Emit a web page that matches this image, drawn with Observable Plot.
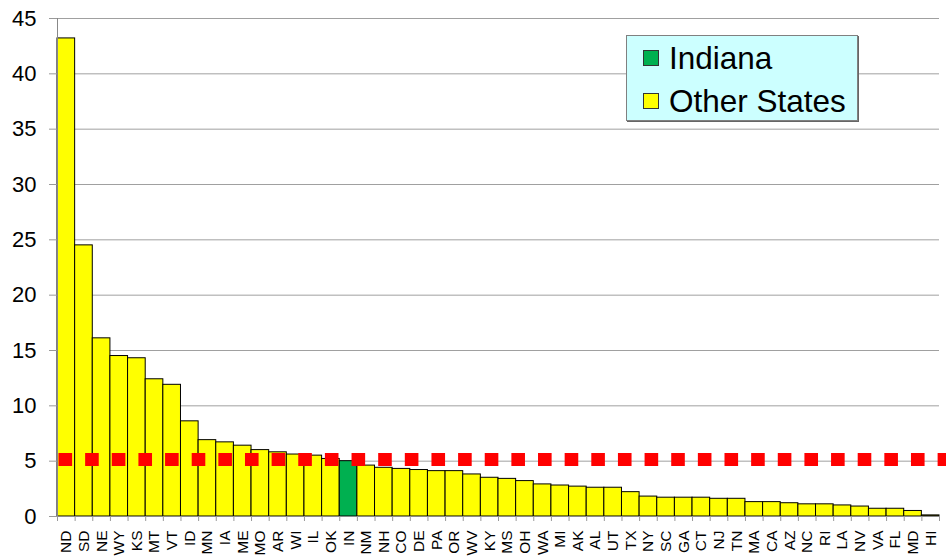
<!DOCTYPE html>
<html>
<head>
<meta charset="utf-8">
<script src="https://cdn.jsdelivr.net/npm/d3@7"></script>
<script src="https://cdn.jsdelivr.net/npm/@observablehq/plot@0.6"></script>
<style>
  html, body { margin: 0; padding: 0; background: #fff; }
  #wrap { position: relative; width: 946px; height: 557px; overflow: hidden; font-family: "Liberation Sans", Arial, sans-serif; }
  #legend { position: absolute; left: 626px; top: 35px; width: 232px; height: 86px; box-sizing: border-box;
    background: #CCFFFF; border: 1px solid #808080; box-shadow: 1px 1px 0 #666; }
  .row { position: absolute; left: 16px; height: 30px; display: flex; align-items: center; font-size: 31.5px; color: #000; white-space: nowrap; }
  .sw { width: 14px; height: 14px; border: 1px solid #333; margin-right: 10px; }
</style>
</head>
<body>
<div id="wrap">
  <div id="chart"></div>
  <div id="legend">
    <div class="row" style="top:7px"><div class="sw" style="background:#00B050"></div><span>Indiana</span></div>
    <div class="row" style="top:50px"><div class="sw" style="background:#FFFF00"></div><span>Other States</span></div>
  </div>
</div>
<script>
const states = ["ND","SD","NE","WY","KS","MT","VT","ID","MN","IA","ME","MO","AR","WI","IL","OK","IN","NM","NH","CO","DE","PA","OR","WV","KY","MS","OH","WA","MI","AK","AL","UT","TX","NY","SC","GA","CT","NJ","TN","MA","CA","AZ","NC","RI","LA","NV","VA","FL","MD","HI"];
const values = [43.2,24.5,16.1,14.5,14.3,12.4,11.9,8.6,6.9,6.7,6.4,6.0,5.8,5.6,5.5,5.2,5.0,4.6,4.4,4.3,4.2,4.1,4.1,3.8,3.5,3.4,3.2,2.9,2.8,2.7,2.6,2.6,2.2,1.8,1.7,1.7,1.7,1.6,1.6,1.3,1.3,1.2,1.1,1.1,1.0,0.9,0.7,0.7,0.5,0.1];
const highlight = "IN";
const average = 5.15;
const yTicks = [0,5,10,15,20,25,30,35,40,45];

const rows = states.map((s, i) => ({state: s, i, value: values[i]}));
const boundaries = d3.range(states.length + 1);
const centers = rows.map(d => d.i + 0.5);

const chart = Plot.plot({
  width: 946,
  height: 557,
  marginLeft: 57,
  marginRight: 7,
  marginTop: 18,
  marginBottom: 41,
  style: {fontFamily: "Liberation Sans, Arial, sans-serif", background: "transparent", overflow: "visible"},
  x: {type: "linear", domain: [0, states.length]},
  y: {domain: [0, 45]},
  marks: [
    Plot.gridY(yTicks.slice(1), {stroke: "#A0A0A0", strokeOpacity: 1}),
    Plot.rectY(rows, {x1: "i", x2: d => d.i + 1, y: "value",
      fill: d => d.state === highlight ? "#00B050" : "#FFFF00", stroke: "#000", strokeWidth: 1}),
    Plot.ruleX([0], {stroke: "#888"}),
    Plot.ruleY([0], {stroke: "#888"}),
    Plot.axisY(yTicks, {tickSize: 8, tickPadding: 13, fontSize: 22, stroke: "#999", fill: "#000", label: null}),
    Plot.axisX(boundaries, {tickSize: 5, tickFormat: () => "", stroke: "#999", label: null}),
    Plot.axisX(centers, {tickSize: 0, tickPadding: 14, tickRotate: -90, fontSize: 15.5, fill: "#000",
      tickFormat: v => states[Math.floor(v)], label: null}),
    Plot.ruleY([average], {stroke: "#FF0000", strokeWidth: 13, strokeDasharray: "13.6,13.04",
      strokeDashoffset: -1.5, insetRight: -9})
  ]
});
document.getElementById("chart").appendChild(chart);
</script>
</body>
</html>
